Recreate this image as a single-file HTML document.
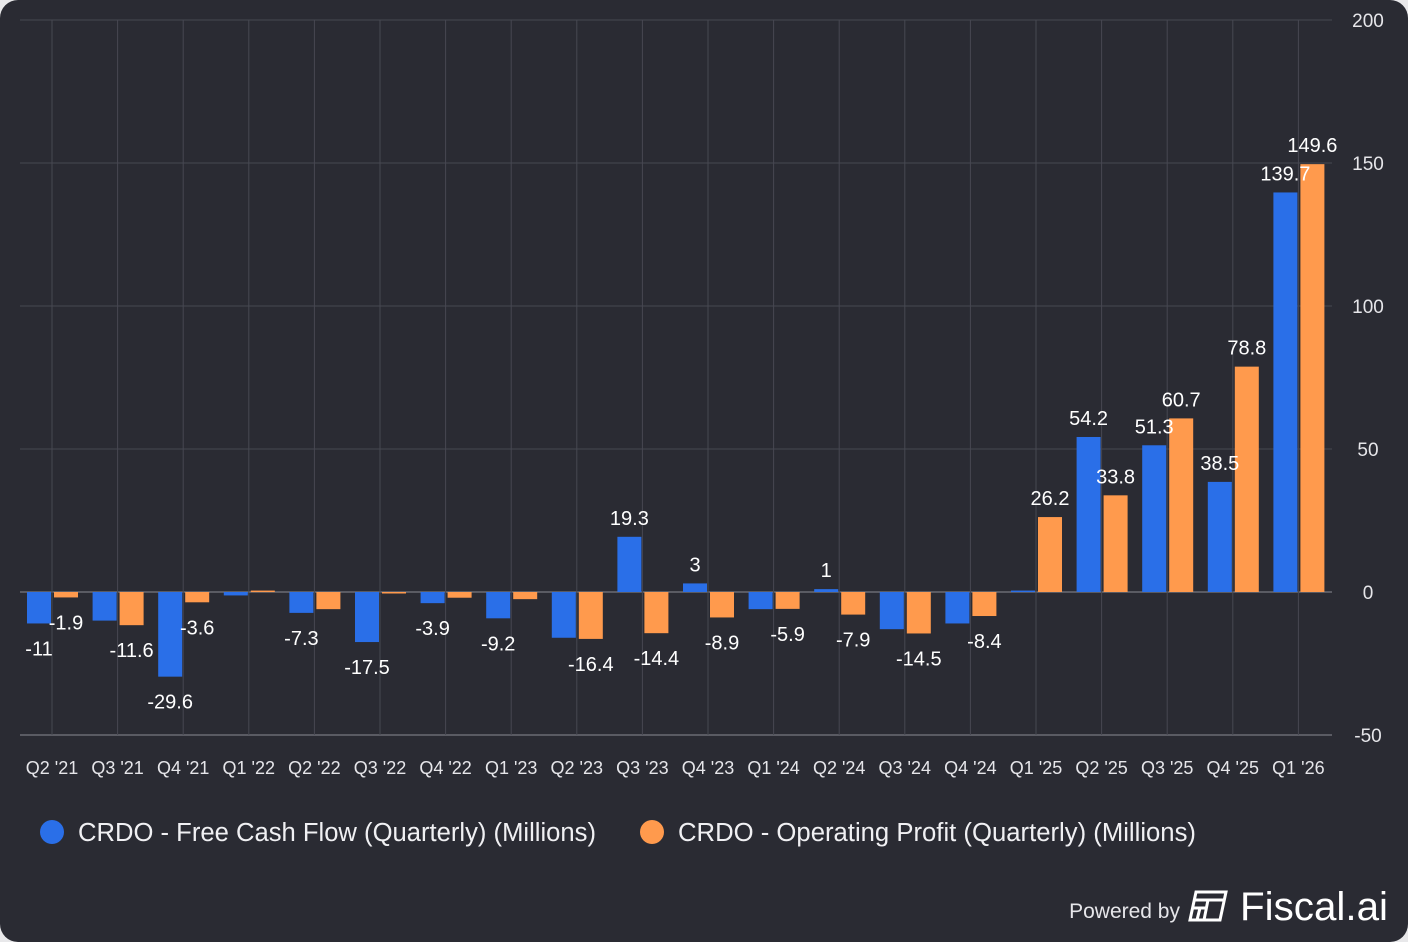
<!DOCTYPE html>
<html><head><meta charset="utf-8"><style>
html,body{margin:0;padding:0;background:#e8e8ea;}
#card{position:absolute;left:0;top:0;width:1408px;height:942px;background:#2a2b33;border-radius:18px;overflow:hidden;font-family:"Liberation Sans",sans-serif;}
svg text{font-family:"Liberation Sans",sans-serif;}
</style></head><body>
<div id="card">
<svg id="chart" width="1408" height="942"></svg>
</div>
<script>
const categories=["Q2 '21","Q3 '21","Q4 '21","Q1 '22","Q2 '22","Q3 '22","Q4 '22","Q1 '23","Q2 '23","Q3 '23","Q4 '23","Q1 '24","Q2 '24","Q3 '24","Q4 '24","Q1 '25","Q2 '25","Q3 '25","Q4 '25","Q1 '26"];
const fcfValues=[-11,-10,-29.6,-1.2,-7.3,-17.5,-3.9,-9.2,-16,19.3,3,-6,1,-13,-11,0.5,54.2,51.3,38.5,139.7];
const opValues=[-1.9,-11.6,-3.6,0.5,-6,0,-2,-2.5,-16.4,-14.4,-8.9,-5.9,-7.9,-14.5,-8.4,26.2,33.8,60.7,78.8,149.6];
const fcfShowLabel=[1,0,1,0,1,1,1,1,0,1,1,0,1,0,0,0,1,1,1,1];
const opShowLabel=[1,1,1,0,0,0,0,0,1,1,1,1,1,1,1,1,1,1,1,1];
const yTicks=[-50,0,50,100,150,200];
const legendLabels=["CRDO - Free Cash Flow (Quarterly) (Millions)","CRDO - Operating Profit (Quarterly) (Millions)"];

const NS="http://www.w3.org/2000/svg";
const svg=document.getElementById('chart');
const plotL=20,plotR=1332,slot=65.6,x0=52;
const y=v=>592-v*2.86;
const xc=i=>x0+i*slot;
function mk(tag,attrs,parent){const e=document.createElementNS(NS,tag);for(const k in attrs)e.setAttribute(k,attrs[k]);(parent||svg).appendChild(e);return e;}
const BLUE="#2a6fe8",ORANGE="#ff9a4d";

yTicks.forEach(t=>{
  const l=mk('line',{x1:plotL,x2:plotR,y1:y(t),y2:y(t),stroke:t===0||t===-50?'#8a8b93':'#474852','stroke-width':1});
  
  
  const tx=mk('text',{x:1368,y:y(t)+7,fill:'#e6e6ea','font-size':19,'text-anchor':'middle'});
  tx.textContent=t;
  
  
});
categories.forEach((c,i)=>{
  const l=mk('line',{x1:xc(i),x2:xc(i),y1:20,y2:735,stroke:'#474852','stroke-width':1});
  
  
  const tx=mk('text',{x:xc(i),y:774,fill:'#e6e6ea','font-size':18,'text-anchor':'middle'});
  tx.textContent=c;
  
  
});
function bars(vals,color,off,name){
  vals.forEach((v,i)=>{
    const cx=xc(i)+off;
    const top=Math.min(y(v),y(0)),h=Math.max(Math.abs(y(v)-y(0)),1.5);
    const r=mk('rect',{x:cx-12,y:top,width:24,height:h,fill:color});
    
    
  });
}
function labels(vals,show,off,name){
  vals.forEach((v,i)=>{
    if(!show[i])return;
    const cx=xc(i)+off;
    const ty=v>=0?y(v)-12:y(v)+32;
    const tx=mk('text',{x:cx,y:ty,fill:'#ffffff','font-size':20,'text-anchor':'middle'});
    tx.textContent=v;
    
    
  });
}
bars(fcfValues,BLUE,-13,'fcf');
bars(opValues,ORANGE,14,'op');
labels(fcfValues,fcfShowLabel,-13,'fcf');
labels(opValues,opShowLabel,14,'op');

[[52,BLUE,78,518],[652,ORANGE,678,518]].forEach((d,k)=>{
  const c=mk('circle',{cx:d[0],cy:832,r:12,fill:d[1]});
  
  
  const t=mk('text',{x:d[2],y:841,fill:'#f0f0f3','font-size':25.5,textLength:d[3],lengthAdjust:'spacingAndGlyphs'});
  t.textContent=legendLabels[k];
  
  
});
const pb=mk('text',{x:1180,y:918,fill:'#e6e6ea','font-size':21,'text-anchor':'end'});
pb.textContent="Powered by";


const g=mk('g',{fill:'none',stroke:'#fff','stroke-width':3});


mk('path',{d:'M1196 892 h30 l-6 28 h-30 z M1195 900 h30 M1193 908 h14 M1200 908 l-3 12 M1208 900 l-4 20'},g);
const fl=mk('text',{x:1240,y:920,fill:'#ffffff','font-size':40,textLength:148,lengthAdjust:'spacingAndGlyphs'});
fl.textContent="Fiscal.ai";


</script>
</body></html>
